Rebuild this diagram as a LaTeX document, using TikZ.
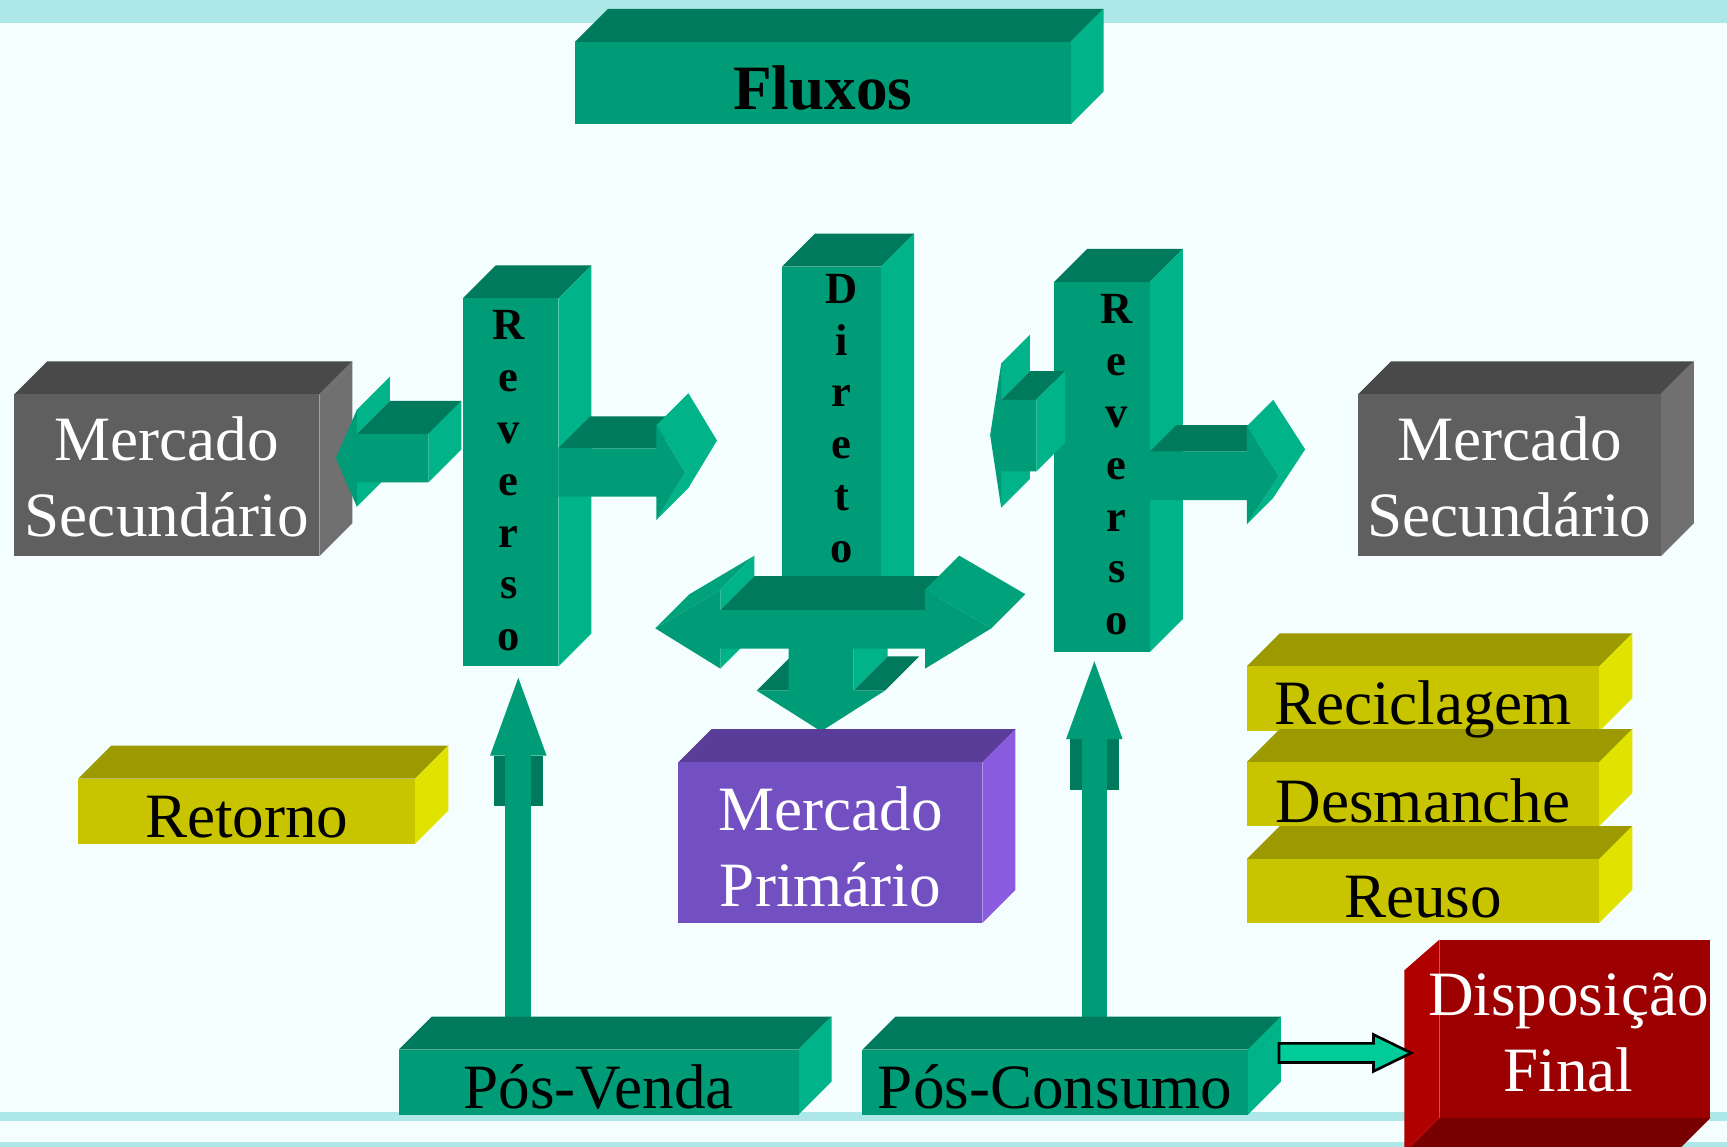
\documentclass[tikz,border=0pt]{standalone}
\usepackage{fontspec}
\setmainfont{Liberation Serif}
\usetikzlibrary{calc,arrows.meta,shapes.arrows}

\definecolor{bg}{HTML}{F4FEFE}
\definecolor{band}{HTML}{AEE7E7}
\definecolor{tF}{HTML}{009C77}
\definecolor{tT}{HTML}{007A5C}
\definecolor{tM}{HTML}{00A27C}
\definecolor{tS}{HTML}{00B388}
\definecolor{gF}{HTML}{5F5F5F}
\definecolor{gT}{HTML}{494949}
\definecolor{gS}{HTML}{707070}
\definecolor{pF}{HTML}{7350C2}
\definecolor{pT}{HTML}{5A3D98}
\definecolor{pS}{HTML}{8A5ADF}
\definecolor{yF}{HTML}{C8C400}
\definecolor{yT}{HTML}{9C9A00}
\definecolor{yS}{HTML}{E2E200}
\definecolor{rF}{HTML}{9C0000}
\definecolor{rS}{HTML}{B00000}
\definecolor{rB}{HTML}{780000}
\definecolor{arrG}{HTML}{00CC99}

% extruded block: colour set, depth, points x/y clockwise (first one repeated)
\newcommand\slab[3]{%
  \foreach \x/\y [count=\i, remember=\x as \lx, remember=\y as \ly] in {#3}{%
    \ifnum\i=1 \xdef\slabpath{(\x,\y)}\else
      \xdef\slabpath{\slabpath -- (\x,\y)}%
      \pgfmathsetmacro\vis{\x-\lx+\y-\ly}%
      \pgfmathsetmacro\slope{abs(\y-\ly)/max(\x-\lx,0.1)}%
      \ifdim\vis pt>0.01pt
        \ifdim\slope pt<0.5pt \def\fc{#1T}\else\ifdim\slope pt<1pt \def\fc{#1M}\else\def\fc{#1S}\fi\fi
        \fill[\fc] (\lx,\ly) -- (\x,\y) -- ++(#2,-#2) -- (\lx+#2,\ly-#2) -- cycle;
      \fi
    \fi}%
  \fill[#1F] \slabpath -- cycle;}
\newcommand\cube[5]{\slab{#1}{30}{#2/#3,#4/#3,#4/#5,#2/#5,#2/#3}}

\begin{document}
\begin{tikzpicture}[x=0.01cm, y=-0.01cm,
  big/.style={font=\fontsize{16.3}{19.6}\selectfont, align=center, anchor=base, inner sep=0pt},
  fluxtitle/.style={big, font=\bfseries\fontsize{16.3}{19.6}\selectfont},
  letters/.style={font=\bfseries\fontsize{11.5}{13.4}\selectfont, align=center, inner sep=0pt},
  upflow/.style={draw=tF, line width=0.233cm, -{Triangle[width=0.44cm,length=0.78cm]}},
  outflow/.style={single arrow, draw=black, fill=arrG, line width=0.024cm, inner xsep=0pt, inner ysep=0.075cm,
    single arrow head extend=0.08cm, single arrow tip angle=52, minimum height=1.2cm}]

	\useasboundingbox (0,0) rectangle (1568,1041);
	\fill[bg] (0,0) rectangle (1568,1041);
	\fill[band] (0,0) rectangle (1568,21);
	\fill[band] (0,1010) rectangle (1568,1018);
	\fill[band] (0,1037) rectangle (1568,1041);

	% title
	\cube{t}{522}{38}{972}{113}
	\node[fluxtitle] (flux) at (747,99.6) {Fluxos};

	% secondary markets (base = last line)
	\cube{g}{13}{358}{290}{505}
	\node[big, white] (msL) at (151.5,487.3) {Mercado\\Secundário};
	\cube{g}{1233}{358}{1508}{505}
	\node[big, white] (msR) at (1370.5,487.3) {Mercado\\Secundário};

	% left reverse flow
	\cube{t}{420}{271}{507}{605}
	\slab{t}{30}{305/416, 324/372, 324/394, 389/394, 389/438, 324/438, 324/460, 305/416}
	\slab{t}{29}{507/407, 596/407, 596/386, 622/429, 596/472, 596/451, 507/451, 507/407}
	\node[letters] (revL) at (462,436.5) {R\\e\\v\\e\\r\\s\\o};

	% direct flow
	\cube{t}{710}{242}{800}{560}
	\node[letters] (dir) at (764,380) {D\\i\\r\\e\\t\\o};
	\slab{t}{31}{595/570.5, 654/535.5, 654/554, 840/554, 840/535.5, 900/570.5, 840/607, 840/589, 775/589,
		775/627, 803.5/627, 745.5/664, 687/627, 716/627, 716/589, 654/589, 654/607, 595/570.5}

	% right reverse flow
	\cube{t}{957}{256}{1044}{592}
	\slab{t}{26}{899/395, 909/330, 909/363, 941/363, 941/428, 909/428, 909/461, 899/395}
	\slab{t}{24}{1044/410, 1132/410, 1132/387, 1161/432, 1132/476, 1132/454, 1044/454, 1044/410}
	\node[letters] (revR) at (1014,422) {R\\e\\v\\e\\r\\s\\o};

	% upward flows
	\coordinate (inL) at (470.6,608);
	\coordinate (inR) at (993.6,593);
	\coordinate (pvTop) at (470.6,926);
	\coordinate (pcTop) at (993.6,926);
	\foreach \c in {inL,inR}
		\fill[tT] ($(\c)+(-22,78)$) rectangle ($(\c)+(22,124)$);
	\draw[upflow] (pvTop) -- (inL);
	\draw[upflow] (pcTop) -- (inR);

	% primary market and returns
	\cube{p}{616}{692}{892}{838}
	\node[big, white] (mp) at (754,823.4) {Mercado\\Primário};
	\cube{y}{71}{707}{377}{766}
	\node[big] (ret) at (224,760.3) {Retorno};

	\cube{y}{1132}{605}{1452}{664}
	\cube{y}{1132}{692}{1452}{750}
	\cube{y}{1132}{780}{1452}{838}
	\node[big] (recic) at (1292,657.4) {Reciclagem};
	\node[big] (desm) at (1292,747) {Desmanche};
	\node[big] (reuso) at (1292,833) {Reuso};

	% origins
	\cube{t}{362}{953}{725}{1012}
	\node[big] (pv) at (543.5,1006) {Pós-Venda};
	\cube{t}{783}{953}{1133}{1012}
	\node[big] (pc) at (958,1006) {Pós-Consumo};

	% final disposal
	\fill[rB] (1307,1015) -- (1553,1015) -- (1523,1045) -- (1277,1045) -- cycle;
	\fill[rS] (1275,881) -- (1307,853) -- (1307,1015) -- (1277,1045) -- (1275,1045) -- cycle;
	\fill[rF] (1307,853) rectangle (1553,1015);
	\node[big, white] (disp) at (1424,991) {Disposição\\Final};
	\node[outflow, anchor=tail] (toDisp) at (1160,956) {};
\end{tikzpicture}
\end{document}
